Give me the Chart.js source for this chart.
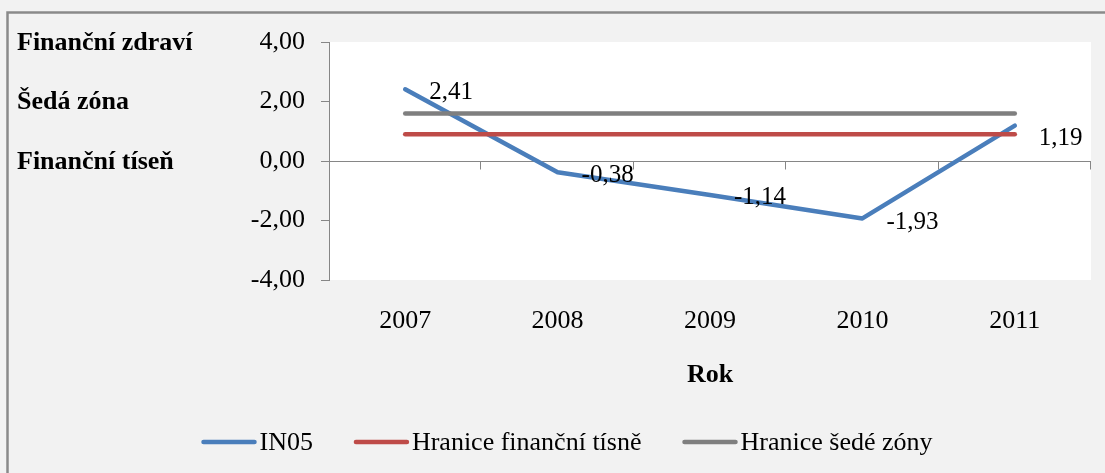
<!DOCTYPE html>
<html>
<head>
<meta charset="utf-8">
<script src="https://cdn.jsdelivr.net/npm/chart.js@4/dist/chart.umd.min.js"></script>
<style>
  html, body { margin: 0; padding: 0; background: #f2f2f2; }
  #wrap { position: relative; width: 1105px; height: 473px; }
</style>
</head>
<body>
<div id="wrap"><canvas id="c"></canvas></div>
<script>
// ---- data ----
const categories = ['2007', '2008', '2009', '2010', '2011'];
const in05Values = [2.41, -0.38, -1.14, -1.93, 1.19];
const distressLimit = [0.9, 0.9, 0.9, 0.9, 0.9];
const greyZoneLimit = [1.6, 1.6, 1.6, 1.6, 1.6];
const seriesNames = ['IN05', 'Hranice finanční tísně', 'Hranice šedé zóny'];
const yTickValues = [-4, -2, 0, 2, 4];
const zoneLabels = ['Finanční zdraví', 'Šedá zóna', 'Finanční tíseň'];
const zoneLabelValues = [4, 2, 0];
const xAxisTitle = 'Rok';

const FONT = '"Liberation Serif", "Times New Roman", serif';
const fmt = v => v.toFixed(2).replace('.', ',');

const bgPlugin = {
  id: 'bg',
  beforeDraw(chart) {
    const {ctx, chartArea: a, width, height} = chart;
    ctx.save();
    ctx.fillStyle = '#f2f2f2';
    ctx.fillRect(0, 0, width, height);
    ctx.fillStyle = '#ffffff';
    ctx.fillRect(a.left, a.top, a.right - a.left, a.bottom - a.top);
    ctx.strokeStyle = '#8a8a8a';
    ctx.lineWidth = 2.5;
    ctx.beginPath();
    ctx.moveTo(7.5, height + 5);
    ctx.lineTo(7.5, 12.5);
    ctx.lineTo(width + 5, 12.5);
    ctx.stroke();
    ctx.restore();
  }
};

const axisPlugin = {
  id: 'zeroAxis',
  beforeDatasetsDraw(chart) {
    const {ctx, chartArea: a, scales: {x, y}} = chart;
    const y0 = Math.round(y.getPixelForValue(0)) + 0.5;
    ctx.save();
    ctx.strokeStyle = '#868686';
    ctx.lineWidth = 1;
    ctx.beginPath();
    ctx.moveTo(a.left, y0);
    ctx.lineTo(a.right, y0);
    const n = categories.length;
    const step = (a.right - a.left) / n;
    for (let i = 1; i <= n; i++) {
      const xb = Math.round(a.left + i * step) - 0.5;
      ctx.moveTo(xb, y0);
      ctx.lineTo(xb, y0 + 8);
    }
    ctx.stroke();
    ctx.restore();
  }
};

const textPlugin = {
  id: 'texts',
  afterDatasetsDraw(chart, args, opts) {
    const {ctx, scales: {y}} = chart;
    ctx.save();
    // data labels for IN05
    const meta = chart.getDatasetMeta(0);
    ctx.font = '25px ' + FONT;
    ctx.fillStyle = '#000';
    ctx.textAlign = 'left';
    ctx.textBaseline = 'middle';
    meta.data.forEach((pt, i) => {
      ctx.fillText(fmt(in05Values[i]), pt.x + opts.labelDx, pt.y + opts.labelDy[i]);
    });
    // zone labels
    ctx.font = 'bold 26px ' + FONT;
    zoneLabels.forEach((t, i) => {
      ctx.fillText(t, 17, y.getPixelForValue(zoneLabelValues[i]) + 1);
    });
    // legend
    ctx.font = '26px ' + FONT;
    const lineLen = 55, gapText = 3, gapItem = 41;
    const items = chart.data.datasets.map(ds => ({text: ds.label, color: ds.borderColor, w: ctx.measureText(ds.label).width}));
    let total = items.reduce((s, it) => s + lineLen + gapText + it.w, 0) + gapItem * (items.length - 1);
    let xx = opts.legendCenter - total / 2;
    const ly = opts.legendY;
    items.forEach(it => {
      ctx.strokeStyle = it.color;
      ctx.lineWidth = 4.5;
      ctx.lineCap = 'round';
      ctx.beginPath();
      ctx.moveTo(xx + 2, ly);
      ctx.lineTo(xx + lineLen - 2, ly);
      ctx.stroke();
      ctx.fillStyle = '#000';
      ctx.fillText(it.text, xx + lineLen + gapText, ly + 1);
      xx += lineLen + gapText + it.w + gapItem;
    });
    ctx.restore();
  }
};

const lineDs = (label, data, color, order) => ({
  label, data, borderColor: color, backgroundColor: color,
  borderWidth: 4.5, pointRadius: 0, pointHoverRadius: 0,
  borderCapStyle: 'round', borderJoinStyle: 'round', tension: 0, fill: false, order
});

new Chart(document.getElementById('c'), {
  type: 'line',
  data: {
    labels: categories,
    datasets: [
      lineDs(seriesNames[0], in05Values, '#4a7ebb', 2),
      lineDs(seriesNames[1], distressLimit, '#be4b48', 1),
      lineDs(seriesNames[2], greyZoneLimit, '#7f7f7f', 0)
    ]
  },
  options: {
    responsive: true,
    maintainAspectRatio: false,
    devicePixelRatio: 1,
    animation: false,
    events: [],
    layout: { padding: { top: 42, right: 14, bottom: 0, left: 0 } },
    plugins: {
      legend: { display: false },
      tooltip: { enabled: false },
      texts: { labelDx: 24, labelDy: [3, 3, 3, 4, 13], legendCenter: 567, legendY: 442 }
    },
    scales: {
      x: {
        offset: true,
        grid: { display: false, drawTicks: false },
        border: { display: false },
        ticks: { color: '#000', font: { family: FONT, size: 26 }, padding: 26, maxRotation: 0 },
        title: { display: true, text: xAxisTitle, color: '#000', font: { family: FONT, size: 26, weight: 'bold' }, padding: { top: 0, bottom: 82 } },
        afterFit(s) { s.height = 193; }
      },
      y: {
        min: -4, max: 4,
        afterBuildTicks(s) { s.ticks = yTickValues.map(v => ({ value: v })); },
        grid: { drawOnChartArea: false, drawTicks: true, tickLength: 8, color: '#868686', lineWidth: 1 },
        border: { display: true, color: '#868686', width: 1 },
        ticks: { color: '#000', font: { family: FONT, size: 26 }, padding: 16, callback: v => fmt(v) },
        afterFit(s) { s.width = 329; }
      }
    }
  },
  plugins: [bgPlugin, axisPlugin, textPlugin]
});
</script>
</body>
</html>
